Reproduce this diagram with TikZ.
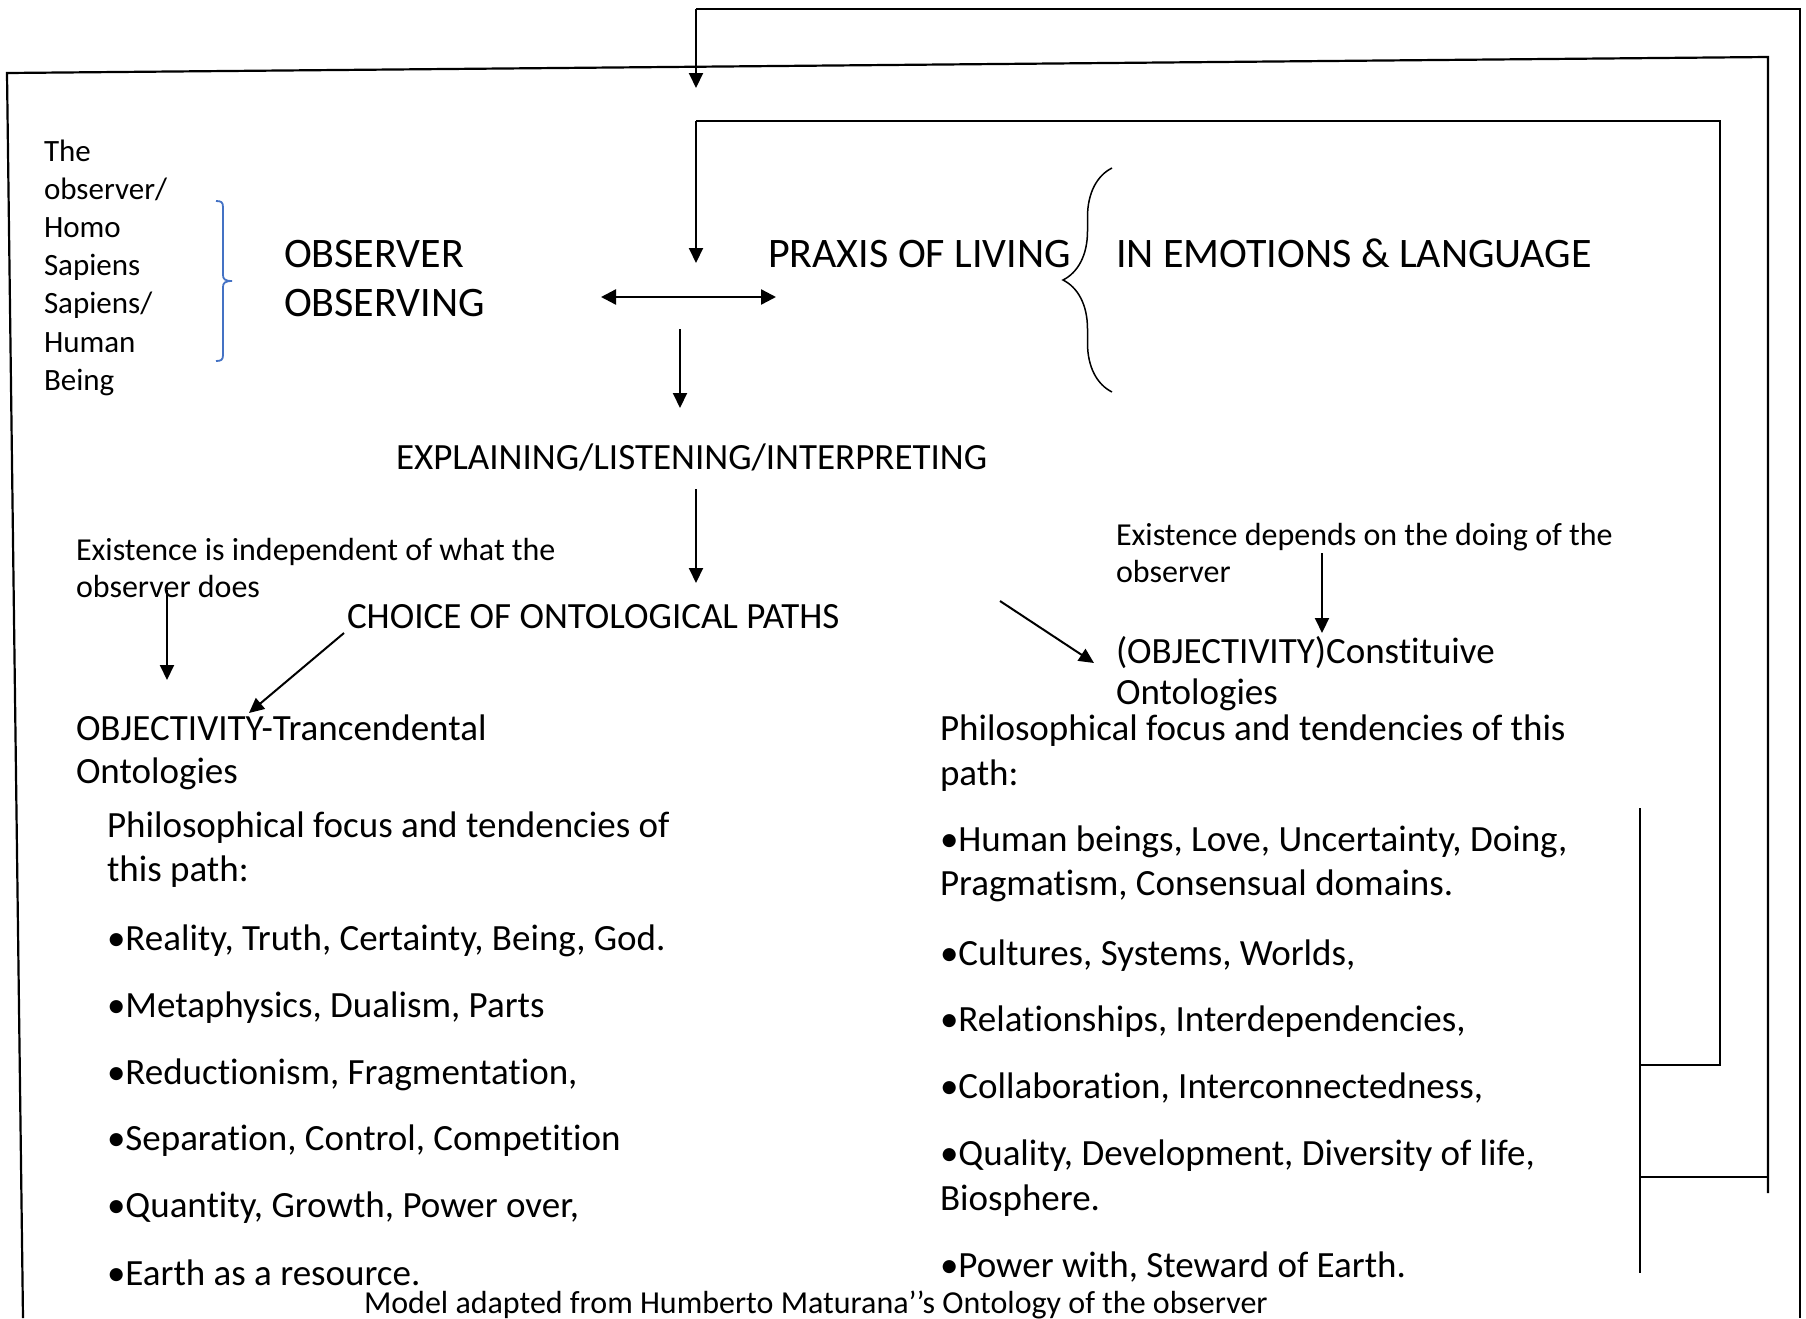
\documentclass[tikz,border=0pt]{standalone}
\usepackage{fontspec}
\setmainfont{Carlito}[Ligatures=NoCommon]
\usetikzlibrary{arrows.meta,decorations.pathreplacing}
\definecolor{brblue}{RGB}{68,114,196}
\begin{document}
\begin{tikzpicture}[x=1pt,y=-1pt,
  txt/.style={inner sep=0pt,outer sep=0pt,anchor=base west},
  big/.style={txt,font=\fontsize{42}{50}\selectfont},
  mid/.style={txt,font=\fontsize{37}{44}\selectfont},
  sml/.style={txt,font=\fontsize{32}{38}\selectfont},
  lst/.style={txt,font=\fontsize{31}{38}\selectfont},
  arr/.style={line width=2pt,-{Triangle[length=15pt,width=14pt]}},
  darr/.style={line width=2.4pt,{Triangle[length=15pt,width=15pt]}-{Triangle[length=15pt,width=15pt]}},
  frame/.style={line width=2.2pt,line join=miter},
]
\useasboundingbox (0,0) rectangle (1806,1318);

% ---------- frames and feedback loops ----------
\coordinate (fBL) at (23,1318);
\coordinate (fTL) at (7,73);
\coordinate (fTR) at (1768,57);
\coordinate (fBR) at (1768,1193);
\coordinate (fH1) at (1640,1177);
\coordinate (fH1r) at (1768,1177);
\draw[frame] (fBL) -- (fTL) -- (fTR) -- (fBR);
\draw[frame] (fH1) -- (fH1r);

\coordinate (l1B) at (1800,1318);
\coordinate (l1T) at (1800,9);
\coordinate (l1L) at (696,9);
\coordinate (l1E) at (696,88);
\draw[frame] (l1B) -- (l1T) -- (l1L);
\draw[arr] (l1L) -- (l1E);

\coordinate (l2B) at (1640,1065);
\coordinate (l2R) at (1720,1065);
\coordinate (l2T) at (1720,121);
\coordinate (l2L) at (696,121);
\coordinate (l2E) at (696,263);
\draw[frame] (l2B) -- (l2R) -- (l2T) -- (l2L);
\draw[arr] (l2L) -- (l2E);

\coordinate (vT) at (1640,808);
\coordinate (vB) at (1640,1273);
\draw[frame] (vT) -- (vB);

% ---------- top row ----------
\node[lst] (o1) at (44,161) {The};
\node[lst] (o2) at (44,199) {observer/};
\node[lst] (o3) at (44,237) {Homo};
\node[lst] (o4) at (44,275) {Sapiens};
\node[lst] (o5) at (44,313) {Sapiens/};
\node[lst] (o6) at (44,352) {Human};
\node[lst] (o7) at (44,390) {Being};

\draw[brblue,line width=1.8pt] (216,201) .. controls (221,201) and (223,202) .. (223,207)
  -- (223,275) .. controls (223,279) and (225,281) .. (232,281)
  .. controls (225,281) and (223,283) .. (223,287)
  -- (223,355) .. controls (223,360) and (221,361) .. (216,361);

\node[big] (obs1) at (284,267) {OBSERVER};
\node[big] (obs2) at (284,316) {OBSERVING};

\node[big] (praxis) at (768,267) {PRAXIS OF LIVING};
\draw[line width=1.5pt,decorate,decoration={brace,amplitude=49pt}] (1112,392) -- (1112,168);
\node[big] (emo) at (1116,267) {IN EMOTIONS \& LANGUAGE};

\coordinate (dL) at (601,297);
\coordinate (dR) at (776,297);
\draw[darr] (dL) -- (dR);
\coordinate (a1s) at (680,329);
\coordinate (a1e) at (680,408);
\draw[arr] (a1s) -- (a1e);

% ---------- middle ----------
\node[mid] (expl) at (396,469) {EXPLAINING/LISTENING/INTERPRETING};
\coordinate (a2s) at (696,489);
\coordinate (a2e) at (696,583);
\draw[arr] (a2s) -- (a2e);

\node[sml] (ind1) at (76,560) {Existence is independent of what the};
\node[sml] (ind2) at (76,597) {observer does};
\coordinate (a3s) at (167,590);
\coordinate (a3e) at (167,680);
\draw[arr] (a3s) -- (a3e);

\node[mid] (choice) at (347,628) {CHOICE OF ONTOLOGICAL PATHS};
\coordinate (a4s) at (344,633);
\coordinate (a4e) at (249,713);
\draw[arr] (a4s) -- (a4e);
\coordinate (a5s) at (1000,601);
\coordinate (a5e) at (1094,663);
\draw[arr] (a5s) -- (a5e);

\node[sml] (dep1) at (1116,545) {Existence depends on the doing of the};
\node[sml] (dep2) at (1116,582) {observer};
\coordinate (a6s) at (1322,553);
\coordinate (a6e) at (1322,633);
\draw[arr] (a6s) -- (a6e);

\node[mid] (con1) at (1116,663) {(OBJECTIVITY)Constituive};
\node[mid] (con2) at (1116,704) {Ontologies};

\node[mid] (tra1) at (76,740) {OBJECTIVITY-Trancendental};
\node[mid] (tra2) at (76,783) {Ontologies};

% ---------- left list ----------
\node[mid] (lp1) at (107,837) {Philosophical focus and tendencies of};
\node[mid] (lp2) at (107,881) {this path:};
\node[mid] (lb1) at (107,950) {•Reality, Truth, Certainty, Being, God.};
\node[mid] (lb2) at (107,1017) {•Metaphysics, Dualism, Parts};
\node[mid] (lb3) at (107,1084) {•Reductionism, Fragmentation,};
\node[mid] (lb4) at (107,1150) {•Separation, Control, Competition};
\node[mid] (lb5) at (107,1217) {•Quantity, Growth, Power over,};
\node[mid] (lb6) at (107,1285) {•Earth as a resource.};

% ---------- right list ----------
\node[mid] (rp1) at (940,740) {Philosophical focus and tendencies of this};
\node[mid] (rp2) at (940,785) {path:};
\node[mid] (rb1) at (940,851) {•Human beings, Love, Uncertainty, Doing,};
\node[mid] (rb1b) at (940,895) {Pragmatism, Consensual domains.};
\node[mid] (rb2) at (940,965) {•Cultures, Systems, Worlds,};
\node[mid] (rb3) at (940,1031) {•Relationships, Interdependencies,};
\node[mid] (rb4) at (940,1098) {•Collaboration, Interconnectedness,};
\node[mid] (rb5) at (940,1165) {•Quality, Development, Diversity of life,};
\node[mid] (rb5b) at (940,1210) {Biosphere.};
\node[mid] (rb6) at (940,1277) {•Power with, Steward of Earth.};

\node[sml] (model) at (364,1313) {Model adapted from Humberto Maturana’’s Ontology of the observer};
\end{tikzpicture}
\end{document}
